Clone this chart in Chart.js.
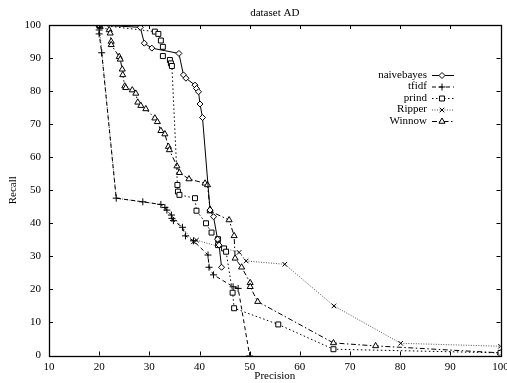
<!DOCTYPE html>
<html>
<head>
<meta charset="utf-8">
<script src="https://cdn.jsdelivr.net/npm/chart.js"></script>
<style>
  body { margin: 0; background: #fff; }
  #wrap { width: 507px; height: 383px; }
</style>
</head>
<body>
<div id="wrap"><canvas id="grafica" width="507" height="383"></canvas></div>
<script>
// valores (precision, recall)
const naivebayesPrecision = [20, 28.2, 29.0, 30.5, 35.9, 36.8, 37.3, 39.1, 39.4, 39.8, 40.1, 40.6, 42.1, 42.8, 43.6, 43.9, 44.4];
const naivebayesRecall    = [100, 99.3, 94.5, 93.0, 91.4, 84.9, 83.9, 81.8, 80.8, 79.8, 76.1, 72.0, 44.0, 42.0, 35.2, 33.4, 26.7];

const tfidfPrecision = [20, 20, 20, 20.5, 23.4, 28.7, 32.3, 33.1, 33.5, 34.4, 34.5, 34.8, 36.6, 37.2, 38.8, 41.7, 41.9, 42.8, 46.7, 47.7, 50];
const tfidfRecall    = [100, 98.5, 97.3, 91.6, 47.6, 46.5, 45.7, 44.8, 44.0, 42.5, 41.5, 40.8, 38.8, 36.2, 34.7, 30.4, 26.7, 24.4, 20.8, 20.3, 0];

const prindPrecision = [20, 31.1, 31.8, 32.3, 32.7, 32.7, 34.1, 34.3, 34.5, 35.6, 35.7, 36.0, 39.1, 39.4, 41.3, 42.4, 43.7, 43.7, 44.9, 45.3, 46.6, 46.9, 55.7, 66.7, 100];
const prindRecall    = [100, 98.0, 97.3, 95.3, 93.4, 90.6, 89.4, 88.4, 87.6, 51.6, 49.6, 48.6, 47.6, 43.8, 40.0, 37.2, 35.2, 33.4, 32.4, 31.4, 19.0, 14.3, 9.4, 1.9, 0.8];

const ripperPrecision = [20, 23.4, 32.3, 36.6, 38.8, 39.4, 47.9, 49.3, 57.0, 66.8, 80.1, 100];
const ripperRecall    = [100, 47.6, 45.7, 38.8, 34.4, 34.9, 31.2, 28.6, 27.6, 15.0, 3.7, 2.8];
const ripperSinMarca  = [1, 2, 3]; // tramo tapado por tfidf

const winnowPrecision = [20, 20.2, 22.0, 22.2, 22.4, 22.4, 24.0, 24.2, 24.6, 24.7, 25.1, 25.3, 26.6, 27.3, 27.7, 28.3, 29.3, 31.1, 31.6, 32.3, 33.1, 33.8, 34.0, 35.5, 36.0, 37.9, 41.1, 41.6, 42.1, 42.1, 45.9, 46.9, 47.1, 48.4, 50.1, 50.1, 51.6, 66.7, 75.1, 100];
const winnowRecall    = [100, 99.5, 98.5, 97.5, 95.0, 94.0, 90.4, 89.6, 86.6, 84.9, 81.5, 81.0, 80.3, 79.3, 76.6, 75.6, 74.6, 71.8, 70.7, 68.0, 67.0, 63.2, 62.2, 57.3, 55.3, 53.4, 52.1, 51.6, 44.2, 43.7, 41.0, 36.2, 29.4, 26.7, 22.0, 20.8, 16.3, 3.8, 2.9, 0.8];

const xTicks = [10, 20, 30, 40, 50, 60, 70, 80, 90, 100];
const yTicks = [0, 10, 20, 30, 40, 50, 60, 70, 80, 90, 100];

function puntos(xs, ys) {
  return xs.map((x, i) => ({ x: x, y: ys[i] }));
}

const fuente = "'Liberation Serif', 'DejaVu Serif', serif";
Chart.defaults.font.family = fuente;
Chart.defaults.font.size = 11;
Chart.defaults.color = '#000';

// caja y marcas hacia dentro, como gnuplot
const marco = {
  id: 'marco',
  afterDatasetsDraw(chart) {
    const ctx = chart.ctx;
    const a = chart.chartArea;
    const sx = chart.scales.x, sy = chart.scales.y;
    const len = 4;
    ctx.save();
    ctx.strokeStyle = '#000';
    ctx.lineWidth = 1;
    ctx.setLineDash([]);
    ctx.beginPath();
    for (const v of xTicks) {
      const px = Math.round(sx.getPixelForValue(v)) + 0.5;
      ctx.moveTo(px, a.bottom); ctx.lineTo(px, a.bottom - len);
      ctx.moveTo(px, a.top); ctx.lineTo(px, a.top + len);
    }
    for (const v of yTicks) {
      const py = Math.round(sy.getPixelForValue(v)) + 0.5;
      ctx.moveTo(a.left, py); ctx.lineTo(a.left + len, py);
      ctx.moveTo(a.right, py); ctx.lineTo(a.right - len, py);
    }
    ctx.stroke();
    ctx.lineWidth = 1.3;
    ctx.strokeRect(Math.round(a.left) + 0.5, Math.round(a.top) + 0.5,
      Math.round(a.right - a.left), Math.round(a.bottom - a.top));
    ctx.restore();
  }
};

// leyenda: texto a la derecha alineado, muestra a su derecha
const leyenda = {
  id: 'leyenda',
  afterDraw(chart) {
    const ctx = chart.ctx;
    const x0 = 427, y0 = 75, paso = 11.5;
    ctx.save();
    ctx.font = '11px ' + fuente;
    ctx.textAlign = 'right';
    ctx.textBaseline = 'middle';
    chart.data.datasets.forEach((ds, i) => {
      const y = y0 + i * paso;
      ctx.fillStyle = '#000';
      ctx.fillText(ds.label, x0, y);
      ctx.strokeStyle = ds.borderColor;
      ctx.lineWidth = 1;
      ctx.setLineDash(ds.borderDash || []);
      ctx.beginPath();
      ctx.moveTo(x0 + 5, y + 0.5);
      ctx.lineTo(x0 + 27, y + 0.5);
      ctx.stroke();
      ctx.setLineDash([]);
      ctx.fillStyle = '#fff';
      ctx.strokeStyle = '#000';
      Chart.helpers.drawPoint(ctx, {
        pointStyle: ds.pointStyle,
        radius: ds.legendRadius,
        borderWidth: 1,
        rotation: 0
      }, x0 + 15, y + 0.5);
    });
    ctx.restore();
  }
};

const ctx = document.getElementById('grafica').getContext('2d');

new Chart(ctx, {
  type: 'scatter',
  data: {
    datasets: [
      {
        label: 'naivebayes',
        data: puntos(naivebayesPrecision, naivebayesRecall),
        showLine: true,
        borderColor: '#000',
        borderWidth: 1,
        pointStyle: 'rectRot',
        pointRadius: 3,
        legendRadius: 3,
        pointBorderColor: '#000',
        pointBackgroundColor: '#fff',
        pointBorderWidth: 1
      },
      {
        label: 'tfidf',
        data: puntos(tfidfPrecision, tfidfRecall),
        showLine: true,
        borderColor: '#000',
        borderWidth: 1,
        borderDash: [4, 3],
        pointStyle: 'cross',
        pointRadius: 3.5,
        legendRadius: 3.5,
        pointBorderColor: '#000',
        pointBackgroundColor: '#fff',
        pointBorderWidth: 1
      },
      {
        label: 'prind',
        data: puntos(prindPrecision, prindRecall),
        showLine: true,
        borderColor: '#000',
        borderWidth: 1,
        borderDash: [1.5, 2.5],
        pointStyle: 'rect',
        pointRadius: 3.5,
        legendRadius: 3.5,
        pointBorderColor: '#000',
        pointBackgroundColor: '#fff',
        pointBorderWidth: 1
      },
      {
        label: 'Ripper',
        data: puntos(ripperPrecision, ripperRecall),
        showLine: true,
        borderColor: '#555',
        borderWidth: 1,
        borderDash: [1, 1.5],
        pointStyle: 'crossRot',
        pointRadius: c => ripperSinMarca.includes(c.dataIndex) ? 0 : 3.2,
        legendRadius: 3.2,
        pointBorderColor: '#000',
        pointBackgroundColor: '#fff',
        pointBorderWidth: 1
      },
      {
        label: 'Winnow',
        data: puntos(winnowPrecision, winnowRecall),
        showLine: true,
        borderColor: '#000',
        borderWidth: 1,
        borderDash: [5, 2.5, 1.5, 2.5],
        pointStyle: 'triangle',
        pointRadius: 3.5,
        legendRadius: 3.5,
        pointBorderColor: '#000',
        pointBackgroundColor: '#fff',
        pointBorderWidth: 1
      }
    ]
  },
  options: {
    responsive: false,
    animation: false,
    devicePixelRatio: 1,
    layout: { autoPadding: false, padding: { left: 0, right: 6.5, top: 0, bottom: 0 } },
    elements: { line: { tension: 0 } },
    scales: {
      x: {
        type: 'linear',
        min: 10,
        max: 100,
        afterFit: s => { s.height = 27.5; s.paddingLeft = 0; s.paddingRight = 0; },
        afterBuildTicks: s => { s.ticks = xTicks.map(v => ({ value: v })); },
        grid: { display: false, drawTicks: false },
        border: { display: false },
        ticks: { padding: 5, color: '#000', font: { size: 11 } },
        title: { display: true, text: 'Precision', padding: { top: 0, bottom: 0 }, font: { size: 11 } }
      },
      y: {
        type: 'linear',
        min: 0,
        max: 100,
        afterFit: s => { s.width = 49; s.paddingTop = 0; s.paddingBottom = 0; },
        afterBuildTicks: s => { s.ticks = yTicks.map(v => ({ value: v })); },
        grid: { display: false, drawTicks: false },
        border: { display: false },
        ticks: { padding: 8, color: '#000', font: { size: 11 } },
        title: { display: true, text: 'Recall', padding: { top: 6.7, bottom: 0 }, font: { size: 11 } }
      }
    },
    plugins: {
      legend: { display: false },
      tooltip: { enabled: false },
      title: {
        display: true,
        text: 'dataset AD',
        fullSize: false,
        color: '#000',
        font: { size: 11, weight: 'normal' },
        padding: { top: 7, bottom: 4.8 }
      }
    }
  },
  plugins: [marco, leyenda]
});
</script>
</body>
</html>
